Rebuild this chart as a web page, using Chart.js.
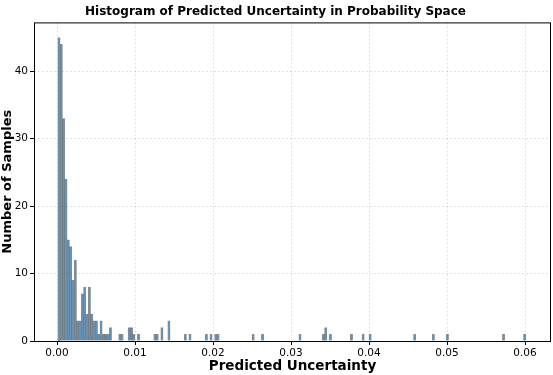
<!DOCTYPE html>
<html>
<head>
<meta charset="utf-8">
<script src="https://cdn.jsdelivr.net/npm/chart.js@4.4.0/dist/chart.umd.min.js"></script>
<style>
html, body { margin: 0; padding: 0; background: #fff; }
#wrap { width: 553px; height: 375px; }
</style>
</head>
<body>
<div id="wrap"><canvas id="histChart"></canvas></div>
<script>
// Histogram bins of the predicted uncertainty
const binStart = 0.0001;
const binWidth = 0.0003;
const binCount = 200;

// Non-empty bins: bin number and how many samples fell in it
const binIndex = [0, 1, 2, 3, 4, 5, 6, 7, 8, 9, 10, 11, 12, 13, 14, 15, 16, 17, 18, 19, 20, 21, 22,
    26, 27, 30, 31, 32, 34, 41, 42, 44, 47, 54, 56, 63, 65, 67, 68, 83, 87, 103,
    113, 114, 116, 125, 130, 133, 152, 160, 166, 190, 199];
const binCounts = [45, 44, 33, 24, 15, 14, 9, 12, 3, 3, 7, 8, 4, 8, 4, 3, 3, 1, 3, 1, 1, 1, 2,
    1, 1, 2, 2, 1, 1, 1, 1, 2, 3, 1, 1, 1, 1, 1, 1, 1, 1, 1,
    1, 2, 1, 1, 1, 1, 1, 1, 1, 1, 1];

const xTicks = [0, 0.01, 0.02, 0.03, 0.04, 0.05, 0.06];
const yTicks = [0, 10, 20, 30, 40];

// build one point per bin (empty bins get 0)
const points = [];
for (let i = 0; i < binCount; i++) {
    points.push({ x: binStart + (i + 0.5) * binWidth, y: 0 });
}
binIndex.forEach((b, k) => { points[b].y = binCounts[k]; });

const FONT = 'DejaVu Sans';

// matplotlib style box around the plot area
const frame = {
    id: 'frame',
    afterDraw(chart) {
        const a = chart.chartArea;
        const c = chart.ctx;
        c.save();
        c.strokeStyle = '#000';
        c.lineWidth = 1;
        c.strokeRect(a.left + 0.5, a.top + 0.5, a.right - a.left - 1, a.bottom - a.top);
        c.restore();
    }
};

new Chart(document.getElementById('histChart'), {
    type: 'bar',
    data: {
        datasets: [{
            data: points,
            backgroundColor: 'rgba(70, 130, 180, 0.7)',
            borderColor: 'rgba(0, 0, 0, 0.42)',
            borderWidth: 0.7,
            barPercentage: 1,
            categoryPercentage: 1
        }]
    },
    options: {
        responsive: true,
        maintainAspectRatio: false,
        animation: false,
        layout: { padding: { right: 2, left: 0, top: 0, bottom: 0 } },
        plugins: {
            legend: { display: false },
            tooltip: { enabled: false },
            title: {
                display: true,
                text: 'Histogram of Predicted Uncertainty in Probability Space',
                color: '#000',
                font: { family: FONT, size: 12, weight: 'bold' },
                padding: { top: 5, bottom: 3 }
            }
        },
        scales: {
            x: {
                type: 'linear',
                offset: false,
                min: -0.00295,
                max: 0.06333,
                afterBuildTicks: s => { s.ticks = xTicks.map(v => ({ value: v })); },
                afterFit: s => { s.height = 34; },
                ticks: {
                    color: '#000',
                    font: { family: FONT, size: 10.5 },
                    padding: 2,
                    maxRotation: 0,
                    callback: v => v.toFixed(2)
                },
                grid: {
                    offset: false,
                    color: 'rgba(0,0,0,0.15)',
                    lineWidth: 0.8,
                    tickLength: 4,
                    tickColor: '#000',
                    tickWidth: 1,
                    tickBorderDash: []
                },
                border: { display: false, dash: [2, 2] },
                title: {
                    display: true,
                    text: 'Predicted Uncertainty',
                    color: '#000',
                    font: { family: FONT, size: 13.5, weight: 'bold' },
                    padding: { top: 0, bottom: 0 }
                }
            },
            y: {
                min: 0,
                max: 47.25,
                afterBuildTicks: s => { s.ticks = yTicks.map(v => ({ value: v })); },
                afterFit: s => { s.width = 34; },
                ticks: {
                    color: '#000',
                    font: { family: FONT, size: 10.5 },
                    padding: 2
                },
                grid: {
                    color: 'rgba(0,0,0,0.15)',
                    lineWidth: 0.8,
                    tickLength: 4,
                    tickColor: '#000',
                    tickWidth: 1,
                    tickBorderDash: []
                },
                border: { display: false, dash: [2, 2] },
                title: {
                    display: true,
                    text: 'Number of Samples',
                    color: '#000',
                    font: { family: FONT, size: 13, weight: 'bold' },
                    padding: { top: 0, bottom: 0 }
                }
            }
        }
    },
    plugins: [frame]
});
</script>
</body>
</html>
